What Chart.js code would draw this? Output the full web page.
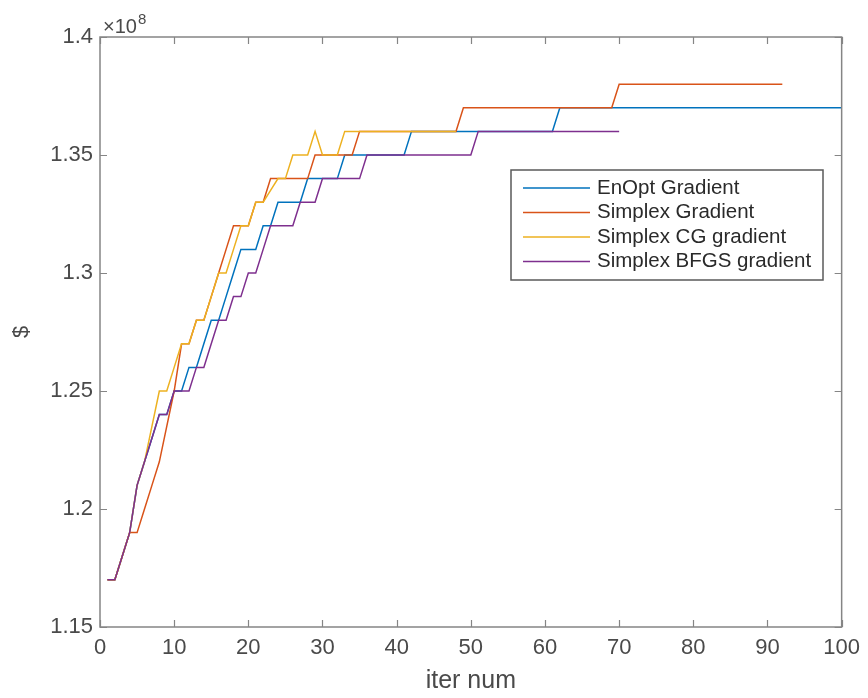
<!DOCTYPE html>
<html><head><meta charset="utf-8">
<script src="https://cdn.jsdelivr.net/npm/chart.js@4.4.1/dist/chart.umd.min.js"></script>
<style>html,body{margin:0;padding:0;background:#fff}#wrap{width:868px;height:698px}</style>
</head><body><div id="wrap"><canvas id="c" width="868" height="698"></canvas></div>
<script>
// values in units of 1e8 $
const seriesNames = ['EnOpt Gradient', 'Simplex Gradient', 'Simplex CG gradient', 'Simplex BFGS gradient'];
const seriesColors = ['#0072BD', '#D95319', '#EDB120', '#7E2F8E'];

const enOpt = [
  1.17, 1.17, 1.18, 1.19, 1.21, 1.22, 1.23, 1.24, 1.24, 1.25,
  1.25, 1.26, 1.26, 1.27, 1.28, 1.28, 1.29, 1.30, 1.31, 1.31,
  1.31, 1.32, 1.32, 1.33, 1.33, 1.33, 1.33, 1.34, 1.34, 1.34,
  1.34, 1.34, 1.35, 1.35, 1.35, 1.35, 1.35, 1.35, 1.35, 1.35,
  1.35, 1.36, 1.36, 1.36, 1.36, 1.36, 1.36, 1.36, 1.36, 1.36,
  1.36, 1.36, 1.36, 1.36, 1.36, 1.36, 1.36, 1.36, 1.36, 1.36,
  1.36, 1.37, 1.37, 1.37, 1.37, 1.37, 1.37, 1.37, 1.37, 1.37,
  1.37, 1.37, 1.37, 1.37, 1.37, 1.37, 1.37, 1.37, 1.37, 1.37,
  1.37, 1.37, 1.37, 1.37, 1.37, 1.37, 1.37, 1.37, 1.37, 1.37,
  1.37, 1.37, 1.37, 1.37, 1.37, 1.37, 1.37, 1.37, 1.37, 1.37
];
const simplexGrad = [
  1.17, 1.17, 1.18, 1.19, 1.19, 1.20, 1.21, 1.22, 1.235, 1.25,
  1.27, 1.27, 1.28, 1.28, 1.29, 1.30, 1.31, 1.32, 1.32, 1.32,
  1.33, 1.33, 1.34, 1.34, 1.34, 1.34, 1.34, 1.34, 1.35, 1.35,
  1.35, 1.35, 1.35, 1.35, 1.36, 1.36, 1.36, 1.36, 1.36, 1.36,
  1.36, 1.36, 1.36, 1.36, 1.36, 1.36, 1.36, 1.36, 1.37, 1.37,
  1.37, 1.37, 1.37, 1.37, 1.37, 1.37, 1.37, 1.37, 1.37, 1.37,
  1.37, 1.37, 1.37, 1.37, 1.37, 1.37, 1.37, 1.37, 1.37, 1.38,
  1.38, 1.38, 1.38, 1.38, 1.38, 1.38, 1.38, 1.38, 1.38, 1.38,
  1.38, 1.38, 1.38, 1.38, 1.38, 1.38, 1.38, 1.38, 1.38, 1.38,
  1.38, 1.38
];
const simplexCG = [
  1.17, 1.17, 1.18, 1.19, 1.21, 1.22, 1.235, 1.25, 1.25, 1.26,
  1.27, 1.27, 1.28, 1.28, 1.29, 1.30, 1.30, 1.31, 1.32, 1.32,
  1.33, 1.33, 1.335, 1.34, 1.34, 1.35, 1.35, 1.35, 1.36, 1.35,
  1.35, 1.35, 1.36, 1.36, 1.36, 1.36, 1.36, 1.36, 1.36, 1.36,
  1.36, 1.36, 1.36, 1.36, 1.36, 1.36, 1.36, 1.36
];
const simplexBFGS = [
  1.17, 1.17, 1.18, 1.19, 1.21, 1.22, 1.23, 1.24, 1.24, 1.25,
  1.25, 1.25, 1.26, 1.26, 1.27, 1.28, 1.28, 1.29, 1.29, 1.30,
  1.30, 1.31, 1.32, 1.32, 1.32, 1.32, 1.33, 1.33, 1.33, 1.34,
  1.34, 1.34, 1.34, 1.34, 1.34, 1.35, 1.35, 1.35, 1.35, 1.35,
  1.35, 1.35, 1.35, 1.35, 1.35, 1.35, 1.35, 1.35, 1.35, 1.35,
  1.36, 1.36, 1.36, 1.36, 1.36, 1.36, 1.36, 1.36, 1.36, 1.36,
  1.36, 1.36, 1.36, 1.36, 1.36, 1.36, 1.36, 1.36, 1.36, 1.36
];
const xTicks = [0, 10, 20, 30, 40, 50, 60, 70, 80, 90, 100];
const yTicks = [1.15, 1.2, 1.25, 1.3, 1.35, 1.4];
const xTitle = 'iter num';
const yTitle = '$';
const yExponent = '8';

const FONT = 'Liberation Sans, Arial, Helvetica, sans-serif';
const AXIS_COLOR = '#858585';
const TEXT_COLOR = '#4a4a4a';

const allSeries = [enOpt, simplexGrad, simplexCG, simplexBFGS];
const toPoints = arr => arr.map((v, i) => ({ x: i + 1, y: v }));

const framePlugin = {
  id: 'frame',
  afterDraw(chart) {
    const { ctx, chartArea: a, scales: { x, y } } = chart;
    ctx.save();
    ctx.strokeStyle = AXIS_COLOR;
    ctx.lineWidth = 1.5;
    ctx.strokeRect(a.left, a.top, a.right - a.left, a.bottom - a.top);
    const tl = 7;
    ctx.beginPath();
    xTicks.forEach(v => {
      const px = Math.round(x.getPixelForValue(v)) + 0.5;
      ctx.moveTo(px, a.bottom); ctx.lineTo(px, a.bottom - tl);
      ctx.moveTo(px, a.top); ctx.lineTo(px, a.top + tl);
    });
    yTicks.forEach(v => {
      const py = Math.round(y.getPixelForValue(v)) + 0.5;
      ctx.moveTo(a.left, py); ctx.lineTo(a.left + tl, py);
      ctx.moveTo(a.right, py); ctx.lineTo(a.right - tl, py);
    });
    ctx.lineWidth = 1.2;
    ctx.stroke();

    // exponent label
    ctx.fillStyle = TEXT_COLOR;
    ctx.textBaseline = 'alphabetic';
    ctx.textAlign = 'left';
    ctx.font = '20px ' + FONT;
    ctx.fillText('\u00d710', a.left + 3, a.top - 4);
    const w = ctx.measureText('\u00d710').width;
    ctx.font = '15px ' + FONT;
    ctx.fillText(yExponent, a.left + 4 + w, a.top - 13);

    // legend
    const lx = 511, ly = 170, lw = 312, lh = 110;
    ctx.fillStyle = '#ffffff';
    ctx.fillRect(lx, ly, lw, lh);
    ctx.strokeStyle = '#5a5a5a';
    ctx.lineWidth = 1.5;
    ctx.strokeRect(lx, ly, lw, lh);
    ctx.font = '20.5px ' + FONT;
    ctx.textBaseline = 'middle';
    chart.data.datasets.forEach((ds, i) => {
      const cy = ly + 18 + i * 24.5;
      ctx.strokeStyle = ds.borderColor;
      ctx.lineWidth = 1.5;
      ctx.beginPath();
      ctx.moveTo(lx + 12, cy); ctx.lineTo(lx + 79, cy);
      ctx.stroke();
      ctx.fillStyle = '#2a2a2a';
      ctx.fillText(ds.label, lx + 86, cy);
    });
    ctx.restore();
  }
};

new Chart(document.getElementById('c'), {
  type: 'line',
  data: {
    datasets: allSeries.map((s, i) => ({
      label: seriesNames[i],
      data: toPoints(s),
      borderColor: seriesColors[i],
      backgroundColor: seriesColors[i],
      borderWidth: 1.5,
      pointRadius: 0,
      tension: 0,
      fill: false,
      order: allSeries.length - i
    }))
  },
  options: {
    responsive: false,
    animation: false,
    events: [],
    layout: { padding: { top: 37, right: 23, left: 0, bottom: 0 } },
    plugins: { legend: { display: false }, tooltip: { enabled: false } },
    scales: {
      x: {
        type: 'linear', min: 0, max: 100,
        grid: { display: false, drawTicks: false },
        border: { display: false },
        afterBuildTicks: s => { s.ticks = xTicks.map(v => ({ value: v })); },
        ticks: { color: TEXT_COLOR, font: { family: FONT, size: 22 }, padding: 8, maxRotation: 0, autoSkip: false },
        title: { display: true, text: xTitle, color: TEXT_COLOR, font: { family: FONT, size: 25 }, padding: { top: 0, bottom: 2 } },
        afterFit: s => { s.height = 71; }
      },
      y: {
        type: 'linear', min: 1.15, max: 1.4,
        grid: { display: false, drawTicks: false },
        border: { display: false },
        afterBuildTicks: s => { s.ticks = yTicks.map(v => ({ value: v })); },
        ticks: {
          color: TEXT_COLOR, font: { family: FONT, size: 22 }, padding: 7, autoSkip: false,
          callback: v => String(Number(v.toFixed(2)))
        },
        title: { display: true, text: yTitle, color: TEXT_COLOR, font: { family: FONT, size: 22 }, padding: { top: 9, bottom: 0 } },
        afterFit: s => { s.width = 100; }
      }
    }
  },
  plugins: [framePlugin]
});
</script>
</body></html>
